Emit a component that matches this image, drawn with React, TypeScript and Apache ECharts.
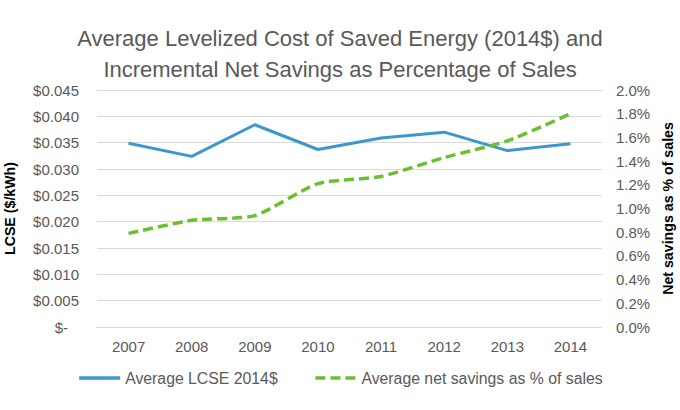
import React, { useEffect, useRef } from "react";
import * as echarts from "echarts";

const years = ["2007", "2008", "2009", "2010", "2011", "2012", "2013", "2014"];
const lcse = [0.0349, 0.0324, 0.0384, 0.0337, 0.0359, 0.0370, 0.0335, 0.0348];
const netSavingsPct = [0.79, 0.90, 0.94, 1.21, 1.27, 1.43, 1.57, 1.80];
const seriesNames = ["Average LCSE 2014$", "Average net savings as % of sales"];

const FONT = "'Liberation Sans', Arial, Helvetica, sans-serif";
const GREY = "#595959";

export default function App() {
  const ref = useRef<HTMLDivElement>(null);
  useEffect(() => {
    document.body.style.margin = "0";
    if (!ref.current) return;
    const chart = echarts.init(ref.current, undefined, { renderer: "svg" });
    chart.setOption({
      animation: false,
      backgroundColor: "#ffffff",
      textStyle: { fontFamily: FONT },
      title: {
        text: "Average Levelized Cost of Saved Energy (2014$) and\nIncremental Net Savings as Percentage of Sales",
        left: "center",
        top: 18,
        textStyle: {
          fontFamily: FONT,
          fontSize: 22,
          fontWeight: "normal",
          color: GREY,
          lineHeight: 31,
        },
      },
      legend: {
        bottom: 19,
        left: "center",
        itemWidth: 41,
        itemHeight: 14,
        itemGap: 36,
        itemStyle: { opacity: 0 },
        lineStyle: { width: 3.5 },
        textStyle: { fontFamily: FONT, fontSize: 15.8, color: GREY },
        data: seriesNames,
      },
      grid: { left: 97, right: 78, top: 90, bottom: 83, outerBoundsMode: "none", containLabel: false },
      xAxis: {
        type: "category",
        data: years,
        boundaryGap: true,
        axisLine: { show: true, lineStyle: { color: "#d9d9d9", width: 1 } },
        axisTick: { show: false },
        axisLabel: { color: GREY, fontSize: 15, margin: 12, fontFamily: FONT },
      },
      yAxis: [
        {
          type: "value",
          min: 0,
          max: 0.045,
          interval: 0.005,
          name: "LCSE ($/kWh)",
          nameLocation: "middle",
          nameGap: 80,
          nameTextStyle: { fontFamily: FONT, fontSize: 14.2, fontWeight: "bold", color: "#000000" },
          axisLine: { show: false },
          axisTick: { show: false },
          splitLine: { show: true, lineStyle: { color: "#d9d9d9", width: 1 } },
          axisLabel: {
            color: GREY,
            fontSize: 15,
            margin: 18,
            fontFamily: FONT,
            formatter: (v: number) => (Math.abs(v) < 1e-9 ? "{d|$-}" : "$" + v.toFixed(3)),
            rich: { d: { color: GREY, fontSize: 15, fontFamily: FONT, padding: [0, 11, 0, 0] } },
          },
        },
        {
          type: "value",
          min: 0,
          max: 2,
          interval: 0.2,
          position: "right",
          name: "Net savings as % of sales",
          nameLocation: "middle",
          nameGap: 56,
          nameRotate: 90,
          nameTextStyle: { fontFamily: FONT, fontSize: 14.2, fontWeight: "bold", color: "#000000" },
          axisLine: { show: false },
          axisTick: { show: false },
          splitLine: { show: false },
          axisLabel: {
            color: GREY,
            fontSize: 15,
            margin: 14,
            fontFamily: FONT,
            formatter: (v: number) => v.toFixed(1) + "%",
          },
        },
      ],
      series: [
        {
          name: seriesNames[0],
          type: "line",
          yAxisIndex: 0,
          data: lcse,
          symbol: "none",
          lineStyle: { color: "#3d97cf", width: 3 },
          itemStyle: { color: "#3d97cf" },
        },
        {
          name: seriesNames[1],
          type: "line",
          yAxisIndex: 1,
          data: netSavingsPct,
          symbol: "none",
          smooth: 0.2,
          lineStyle: { color: "#6cbf2f", width: 3.5, type: [10, 5] },
          itemStyle: { color: "#6cbf2f" },
        },
      ],
    });
    return () => chart.dispose();
  }, []);
  return <div ref={ref} style={{ width: 680, height: 410 }} />;
}
